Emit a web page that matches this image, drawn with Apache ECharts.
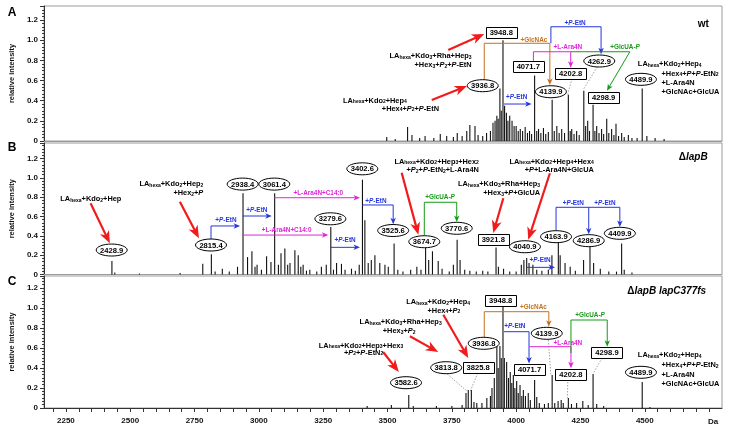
<!DOCTYPE html>
<html><head><meta charset="utf-8">
<script src="https://cdn.jsdelivr.net/npm/echarts@6/dist/echarts.min.js"></script>
<style>html,body{margin:0;padding:0;background:#fff}#c{width:731px;height:430px}</style>
</head><body><div id="c"></div>
<script>
// ---------------- DATA ----------------
const X_MIN = 2165, X_MAX = 4800;
const xTickValues = [2200,2250,2300,2350,2400,2450,2500,2550,2600,2650,2700,2750,2800,2850,2900,2950,3000,3050,3100,3150,3200,3250,3300,3350,3400,3450,3500,3550,3600,3650,3700,3750,3800,3850,3900,3950,4000,4050,4100,4150,4200,4250,4300,4350,4400,4450,4500,4550,4600,4650,4700,4750];
const xLabelValues = [2250,2500,2750,3000,3250,3500,3750,4000,4250,4500];
const panelLetters = ['A','B','C'];

// spectra: [m/z, relative intensity]
const peaksA = [[3497,0.04],[3530,0.02],[3578,0.14],[3595,0.06],[3625,0.03],[3646,0.05],[3680,0.03],[3705,0.07],[3730,0.05],[3756,0.04],[3771,0.08],[3790,0.05],[3808,0.10],[3820,0.16],[3840,0.15],[3852,0.06],[3870,0.05],[3885,0.08],[3900,0.10],[3910,0.18],[3918,0.20],[3925,0.25],[3930,0.22],[3936.8,0.52],[3942,0.30],[3948.8,1.00],[3955,0.35],[3962,0.28],[3968,0.20],[3975,0.25],[3984,0.20],[3992,0.15],[4000,0.15],[4008,0.10],[4016,0.12],[4025,0.10],[4035,0.14],[4044,0.08],[4052,0.10],[4060,0.07],[4071.7,0.65],[4080,0.10],[4087,0.12],[4096,0.08],[4106,0.13],[4115,0.07],[4125,0.09],[4139.9,0.41],[4148,0.10],[4158,0.15],[4167,0.08],[4177,0.12],[4188,0.08],[4202.8,0.46],[4210,0.10],[4216,0.12],[4225,0.07],[4235,0.10],[4245,0.06],[4262.9,0.50],[4270,0.15],[4278,0.20],[4285,0.10],[4298.9,0.36],[4306,0.10],[4313,0.15],[4322,0.08],[4332,0.12],[4340,0.07],[4352,0.22],[4360,0.08],[4371,0.12],[4380,0.06],[4388,0.17],[4398,0.05],[4410,0.08],[4420,0.04],[4436,0.06],[4450,0.03],[4470,0.03],[4489.9,0.52],[4508,0.05],[4540,0.03],[4575,0.02]];
const peaksB = [[2428.9,0.14],[2440,0.02],[2536,0.01],[2694,0.015],[2782,0.11],[2815.4,0.21],[2830,0.03],[2858,0.06],[2885,0.03],[2917,0.08],[2938.4,0.84],[2956,0.18],[2973,0.24],[2985,0.08],[2993,0.10],[3010,0.05],[3030,0.19],[3047,0.13],[3061.4,0.84],[3076,0.10],[3086,0.22],[3101,0.27],[3112,0.10],[3121,0.12],[3140,0.25],[3153,0.20],[3163,0.08],[3172,0.10],[3185,0.04],[3198,0.05],[3225,0.03],[3243,0.08],[3262,0.10],[3279.6,0.49],[3290,0.05],[3302,0.12],[3321,0.11],[3335,0.05],[3360,0.06],[3375,0.04],[3390,0.10],[3402.6,0.98],[3412,0.56],[3425,0.12],[3437,0.15],[3451,0.20],[3470,0.12],[3490,0.10],[3503,0.08],[3525.6,0.32],[3540,0.05],[3560,0.03],[3590,0.05],[3614,0.08],[3630,0.05],[3648,0.34],[3660,0.15],[3674.7,0.24],[3697,0.14],[3712,0.06],[3740,0.03],[3756,0.10],[3770.6,0.36],[3782,0.15],[3800,0.05],[3820,0.04],[3845,0.03],[3870,0.04],[3890,0.03],[3921.8,0.28],[3931,0.08],[3951,0.06],[3975,0.03],[4000,0.03],[4020,0.10],[4030,0.15],[4040.9,0.17],[4050,0.12],[4065,0.10],[4080,0.05],[4100,0.04],[4125,0.05],[4139,0.20],[4163.9,0.36],[4171,0.20],[4190,0.12],[4210,0.08],[4230,0.04],[4262,0.15],[4286.9,0.30],[4301,0.12],[4327,0.06],[4360,0.03],[4390,0.03],[4409.9,0.32],[4420,0.05],[4450,0.02]];
const peaksC = [[3421,0.02],[3515,0.03],[3582.6,0.13],[3600,0.02],[3690,0.02],[3750,0.02],[3790,0.03],[3805,0.15],[3813.8,0.18],[3825.8,0.18],[3836,0.06],[3847,0.05],[3867,0.05],[3886,0.10],[3900,0.12],[3906,0.20],[3915,0.30],[3925,0.62],[3930,0.40],[3936.8,0.62],[3942,0.50],[3948.8,1.02],[3954,0.50],[3963,0.46],[3970,0.30],[3977,0.36],[3983,0.25],[3989,0.33],[3995,0.20],[4002,0.27],[4008,0.15],[4015,0.23],[4022,0.12],[4028,0.18],[4036,0.12],[4047,0.15],[4055,0.08],[4071.7,0.28],[4080,0.11],[4090,0.05],[4110,0.04],[4125,0.05],[4139.9,0.33],[4150,0.05],[4163,0.07],[4175,0.08],[4183,0.05],[4202.8,0.10],[4215,0.04],[4235,0.05],[4259,0.07],[4280,0.03],[4298.9,0.34],[4313,0.04],[4340,0.02],[4489.9,0.26],[4520,0.01]];

// peak tags: [text, m/z, intensity, shape]
const tagsA = [['3948.8',3942,1.075,'box'],['3936.8',3870,0.549,'ell'],['4071.7',4047,0.737,'box'],['4139.9',4135,0.489,'ell'],['4202.8',4212,0.668,'box'],['4262.9',4323,0.794,'ell'],['4298.9',4340,0.430,'box'],['4489.9',4485,0.612,'ell']];
const tagsB = [['2428.9',2428,0.253,'ell'],['2815.4',2814,0.305,'ell'],['2938.4',2937,0.935,'ell'],['3061.4',3060,0.935,'ell'],['3279.6',3278,0.576,'ell'],['3402.6',3402,1.093,'ell'],['3525.6',3522,0.455,'ell'],['3674.7',3643,0.339,'ell'],['3770.6',3769,0.478,'ell'],['3921.8',3911,0.367,'box'],['4040.9',4034,0.287,'ell'],['4163.9',4155,0.391,'ell'],['4286.9',4282,0.350,'ell'],['4409.9',4403,0.426,'ell']];
const tagsC = [['3582.6',3572,0.253,'ell'],['3813.8',3728,0.403,'ell'],['3825.8',3852,0.403,'box'],['3936.8',3874,0.647,'ell'],['3948.8',3940,1.080,'box'],['4139.9',4119,0.747,'ell'],['4071.7',4052,0.387,'box'],['4202.8',4213,0.340,'box'],['4298.9',4353,0.553,'box'],['4489.9',4485,0.357,'ell']];

// connectors: [colour, [[m/z, intensity], ...], kind]
const linksA = [
 ['orange',[[3876,0.605],[3876,0.970],[4131,0.970],[4131,0.556]],'arrow'],
 ['blue',[[4135,0.970],[4135,1.134],[4330,1.134],[4330,0.862]],'arrow'],
 ['magenta',[[4067,0.787],[4067,0.886],[4212,0.886],[4212,0.728]],'arrow'],
 ['green',[[4212,0.886],[4442,0.886],[4353,0.500]],'arrow'],
 ['blue',[[3953,0.367],[4060,0.367]],'arrow'],
 ['red',[[3736,0.903],[3876,1.062]],'red'],
 ['red',[[3672,0.407],[3809,0.546]],'red'],
 ['gray',[[4217,0.618],[4200,0.457]],'dash'],
 ['gray',[[4315,0.735],[4260,0.506]],'dash']
];
const linksB = [
 ['red',[[2346,0.736],[2421,0.322]],'red'],
 ['red',[[2693,0.753],[2767,0.375]],'red'],
 ['blue',[[2814,0.367],[2814,0.502],[2927,0.502]],'arrow'],
 ['blue',[[2937,0.605],[3050,0.605]],'arrow'],
 ['magenta',[[2937,0.408],[3270,0.408]],'arrow'],
 ['magenta',[[3060,0.794],[3393,0.794]],'arrow'],
 ['blue',[[3278,0.281],[3393,0.281]],'arrow'],
 ['blue',[[3402,0.719],[3522,0.719],[3522,0.520]],'arrow'],
 ['red',[[3555,1.053],[3620,0.410]],'red'],
 ['green',[[3643,0.401],[3643,0.747],[3769,0.747],[3769,0.543]],'arrow'],
 ['red',[[3950,0.788],[3911,0.430]],'red'],
 ['red',[[4131,1.047],[4047,0.360]],'red'],
 ['blue',[[4041,0.074],[4151,0.074]],'arrow'],
 ['blue',[[4155,0.453],[4155,0.695],[4403,0.695],[4403,0.491]],'arrow'],
 ['blue',[[4282,0.695],[4282,0.415]],'arrow']
];
const linksC = [
 ['orange',[[3876,0.707],[3876,0.963],[4127,0.963],[4127,0.812]],'arrow'],
 ['blue',[[3953,0.763],[4050,0.763],[4050,0.445]],'arrow'],
 ['magenta',[[4051,0.613],[4213,0.613],[4213,0.398]],'arrow'],
 ['green',[[4213,0.550],[4213,0.880],[4354,0.880],[4354,0.612]],'arrow'],
 ['red',[[3717,0.933],[3814,0.500]],'red'],
 ['red',[[3587,0.717],[3697,0.560]],'red'],
 ['red',[[3483,0.560],[3544,0.360]],'red'],
 ['gray',[[3732,0.340],[3808,0.170]],'dash'],
 ['gray',[[3851,0.350],[3822,0.170]],'dash'],
 ['gray',[[4125,0.680],[4135,0.330]],'dash'],
 ['gray',[[4201,0.290],[4199,0.100]],'dash'],
 ['gray',[[4334,0.500],[4299,0.345]],'dash']
];

// coloured step labels: [text, m/z, intensity, colour]
const capsA = [['+GlcNAc',4069,1.009,'orange'],['+{i|P}-EtN',4229,1.181,'blue'],['+L-Ara4N',4201,0.938,'magenta'],['+GlcUA-{i|P}',4423,0.936,'green'],['+{i|P}-EtN',4002,0.447,'blue']];
const capsB = [['+{i|P}-EtN',2872,0.574,'blue'],['+{i|P}-EtN',2992,0.677,'blue'],['+L-Ara4N+C14:0',3108,0.465,'magenta'],['+L-Ara4N+C14:0',3231,0.850,'magenta'],['+{i|P}-EtN',3335,0.364,'blue'],['+{i|P}-EtN',3455,0.770,'blue'],['+GlcUA-{i|P}',3704,0.805,'green'],['+{i|P}-EtN',4093,0.163,'blue'],['+{i|P}-EtN',4222,0.747,'blue'],['+{i|P}-EtN',4345,0.747,'blue']];
const capsC = [['+GlcNAc',4067,1.015,'orange'],['+{i|P}-EtN',3995,0.830,'blue'],['+L-Ara4N',4201,0.655,'magenta'],['+GlcUA-{i|P}',4287,0.935,'green']];

// structure notes: [text, m/z, intensity, align, kind]
const notesA = [
 ['LA{s|hexa}+Kdo{s|3}+Rha+Hep{s|3}',3827,0.849,'right','n'],
 ['+Hex{s|3}+{i|P}{s|2}+{i|P}-EtN',3827,0.761,'right','n'],
 ['LA{s|hexa}+Kdo{s|2}+Hep{s|4}',3327,0.412,'left','n'],
 ['+Hex{s|4}+{i|P}{s|2}+{i|P}-EtN',3478,0.328,'left','n'],
 ['LA{s|hexa}+Kdo{s|2}+Hep{s|4}',4473,0.771,'left','n'],
 ['+Hex{s|4}+{i|P}+{i|P}-EtN{s|2}',4565,0.680,'left','n'],
 ['+L-Ara4N',4565,0.586,'left','n'],
 ['+GlcNAc+GlcUA',4565,0.500,'left','n'],
 ['wt',4727,1.174,'center','t']
];
const notesB = [
 ['LA{s|hexa}+Kdo{s|2}+Hep',2347,0.788,'center','n'],
 ['LA{s|hexa}+Kdo{s|2}+Hep{s|2}',2784,0.943,'right','n'],
 ['+Hex{s|2}+{i|P}',2784,0.850,'right','n'],
 ['LA{s|hexa}+Kdo{s|2}+Hep{s|3}+Hex{s|2}',3855,1.177,'right','n'],
 ['+{i|P}{s|2}+{i|P}-EtN{s|2}+L-Ara4N',3855,1.088,'right','n'],
 ['LA{s|hexa}+Kdo{s|3}+Rha+Hep{s|3}',4093,0.943,'right','n'],
 ['+Hex{s|3}+{i|P}+GlcUA',4093,0.850,'right','n'],
 ['LA{s|hexa}+Kdo{s|2}+Hep{s|4}+Hex{s|4}',4302,1.177,'right','n'],
 ['+{i|P}+L-Ara4N+GlcUA',4302,1.088,'right','n'],
 ['Δ{it|lapB}',4688,1.225,'center','t']
];
const notesC = [
 ['LA{s|hexa}+Kdo{s|2}+Hep{s|4}',3697,1.067,'center','n'],
 ['+Hex{s|4}+{i|P}{s|2}',3719,0.983,'center','n'],
 ['LA{s|hexa}+Kdo{s|3}+Rha+Hep{s|3}',3551,0.867,'center','n'],
 ['+Hex{s|3}+{i|P}{s|2}',3545,0.777,'center','n'],
 ['LA{s|hexa}+Kdo{s|2}+Hep{s|3}+Hex{s|3}',3397,0.635,'center','n'],
 ['+{i|P}{s|2}+{i|P}-EtN{s|2}',3407,0.560,'center','n'],
 ['LA{s|hexa}+Kdo{s|2}+Hep{s|4}',4473,0.537,'left','n'],
 ['+Hex{s|4}+{i|P}+{i|P}-EtN{s|2}',4565,0.437,'left','n'],
 ['+L-Ara4N',4565,0.340,'left','n'],
 ['+GlcNAc+GlcUA',4565,0.247,'left','n'],
 ['Δ{it|lapB lapC377fs}',4585,1.180,'center','t']
];

// ---------------- CHART ----------------
const FF = '"Liberation Sans", Arial, Helvetica, sans-serif';
const COL = {red:'#f01c1c', blue:'#2536dc', magenta:'#e024d8', green:'#179a17', orange:'#c4701e', gray:'#666'};
const gridTops = [6, 143, 276], gridHeights = [135, 131.5, 132], yMaxes = [1.34, 1.36, 1.32];
const peaks = [peaksA, peaksB, peaksC];

const chart = echarts.init(document.getElementById('c'), null, {renderer:'canvas'});
const option = {
  animation: false,
  backgroundColor: '#fff',
  grid: gridTops.map((t,i)=>({left:44, width:678, top:t, height:gridHeights[i], show:true, borderColor:'#9a9a9a', borderWidth:1, backgroundColor:'transparent'})),
  xAxis: [0,1,2].map(i=>({
    type:'value', gridIndex:i, min:X_MIN, max:X_MAX,
    axisLine:{show:true, onZero:false, lineStyle:{color: i===2?'#333':'#9a9a9a', width:1}},
    axisTick:{show:i===2, length:4, customValues:xTickValues, lineStyle:{color:'#333'}},
    axisLabel:{show:i===2, customValues:xLabelValues, margin:9, fontSize:8, fontWeight:'bold', color:'#111', fontFamily:FF,
      formatter: v => String(v)},
    splitLine:{show:false}
  })),
  yAxis: [0,1,2].map(i=>({
    type:'value', gridIndex:i, min:0, max:yMaxes[i], interval:0.2,
    axisLine:{show:true, lineStyle:{color:'#333'}},
    axisTick:{show:true, length:4, lineStyle:{color:'#333'}},
    minorTick:{show:true, splitNumber:6, length:2, lineStyle:{color:'#333'}},
    axisLabel:{fontSize:8, fontWeight:'bold', color:'#111', fontFamily:FF, margin:6, showMaxLabel:false,
      formatter: v => v === 0 ? '0' : v.toFixed(1)},
    splitLine:{show:false},
    name:'relative intensity', nameLocation:'middle', nameGap:25,
    nameTextStyle:{fontSize:7.5, fontWeight:'bold', color:'#111', fontFamily:FF}
  })),
  series: peaks.map((p,i)=>({
    type:'bar', xAxisIndex:i, yAxisIndex:i, data:p, barWidth:1.1,
    itemStyle:{color:'#111'}, silent:true
  }))
};
chart.setOption(option);

function fontStr(sz, style){ return (style ? style + ' ' : '') + 'bold ' + sz + 'px ' + FF; }
function toRich(str){ return str.replace(/(\{[a-z]+\|[^}]*\})|([^{}]+)/g, (m, tok, plain) => tok ? tok : '{n|' + plain + '}'); }
function richFor(sz){
  const H = Math.round(sz * 1.25);
  return {
    n: {font: fontStr(sz), lineHeight: H, verticalAlign:'bottom'},
    i: {font: fontStr(sz,'italic'), lineHeight: H, verticalAlign:'bottom'},
    it: {font: fontStr(sz,'italic'), lineHeight: H, verticalAlign:'bottom'},
    s: {font: fontStr(Math.round(sz*0.68*10)/10), lineHeight: Math.max(2, H - sz*0.8), verticalAlign:'bottom'}
  };
}
function P(g, pt){ return chart.convertToPixel({gridIndex:g}, pt); }

function arrowEls(pts, color, lw, hl, hw, z){
  const n = pts.length;
  const [x1,y1] = pts[n-2], [x2,y2] = pts[n-1];
  const dx = x2-x1, dy = y2-y1, L = Math.hypot(dx,dy) || 1, ux = dx/L, uy = dy/L;
  const bx = x2 - ux*hl, by = y2 - uy*hl;
  const nx = -uy, ny = ux;
  const shaft = pts.slice(0, n-1).concat([[x2 - ux*hl*0.6, y2 - uy*hl*0.6]]);
  return [
    {type:'polyline', z:z, shape:{points:shaft}, style:{stroke:color, lineWidth:lw, fill:null, lineJoin:'miter'}, silent:true},
    {type:'polygon', z:z, shape:{points:[[x2,y2],[bx+nx*hw/2, by+ny*hw/2],[x2-ux*hl*0.72, y2-uy*hl*0.72],[bx-nx*hw/2, by-ny*hw/2]]}, style:{fill:color, stroke:null}, silent:true}
  ];
}

function buildPanel(g, tags, links, caps, notes){
  const els = [];
  links.forEach(([c, pts, kind])=>{
    const pp = pts.map(p=>P(g,p));
    if (kind === 'dash') {
      els.push({type:'polyline', z:90, shape:{points:pp}, style:{stroke:COL.gray, lineWidth:0.6, lineDash:[1.5,1.5], fill:null}, silent:true});
    } else if (kind === 'red') {
      els.push(...arrowEls(pp, COL.red, 2.2, 12.5, 10, 95));
    } else {
      els.push(...arrowEls(pp, COL[c], 1, 6.5, 5.5, 95));
    }
  });
  tags.forEach(([t, m, v, shape])=>{
    const [x,y] = P(g,[m,v]);
    if (shape === 'ell') {
      els.push({type:'ellipse', z:110, shape:{cx:x, cy:y, rx:15.5, ry:6}, style:{fill:'#fff', stroke:'#000', lineWidth:1}, silent:true});
    } else {
      els.push({type:'rect', z:110, shape:{x:Math.round(x-15.5)+0.5, y:Math.round(y-5.5)+0.5, width:31, height:11}, style:{fill:'#fff', stroke:'#000', lineWidth:1}, silent:true});
    }
    els.push({type:'text', z:111, x:x, y:y+0.5, style:{text:t, font:fontStr(7.6), fill:'#000', align:'center', verticalAlign:'middle'}, silent:true});
  });
  caps.forEach(([t, m, v, c])=>{
    const [x,y] = P(g,[m,v]);
    els.push({type:'text', z:112, x:x, y:y, style:{text:toRich(t), rich:richFor(6.4), fill:COL[c], align:'center', verticalAlign:'middle'}, silent:true});
  });
  notes.forEach(([t, m, v, align, kind])=>{
    const [x,y] = P(g,[m,v]);
    const sz = kind === 't' ? 10 : 7.4;
    els.push({type:'text', z:112, x:x, y:y, style:{text:toRich(t), rich:richFor(sz), fill:'#000', align:align, verticalAlign:'middle'}, silent:true});
  });
  return els;
}

const graphics = [].concat(
  buildPanel(0, tagsA, linksA, capsA, notesA),
  buildPanel(1, tagsB, linksB, capsB, notesB),
  buildPanel(2, tagsC, linksC, capsC, notesC)
);
// panel letters and unit
const letterY = [13, 148, 282];
panelLetters.forEach((L,i)=>graphics.push({type:'text', x:12, y:letterY[i], style:{text:L, font:fontStr(12), fill:'#000', align:'center', verticalAlign:'middle'}}));
const daPos = P(2,[4750,0]);
graphics.push({type:'text', x:daPos[0]+4, y:daPos[1]+13.5, style:{text:'Da', font:fontStr(8), fill:'#111', align:'center', verticalAlign:'middle'}});

chart.setOption({graphic: {elements: graphics}});
</script></body></html>
